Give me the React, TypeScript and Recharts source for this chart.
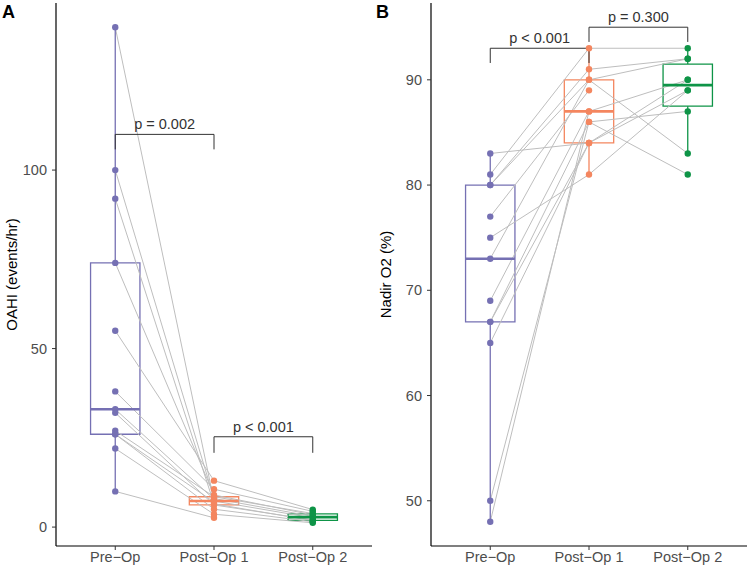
import { ComposedChart, Line, Scatter, XAxis, YAxis, ReferenceArea, ReferenceLine } from 'recharts';

const groups = ['Pre−Op', 'Post−Op 1', 'Post−Op 2'];
const groupColors = ['#7570B3', '#F4865F', '#0E9447'];

// one entry per patient, same order in every array (null = no follow-up)
const oahiPre = [140, 100, 92, 74, 55, 38, 33, 32, 27, 26, 26, 22, 10];
const oahiPost1 = [7.3, 8, 6.5, 9, 13, 10.6, 7.8, 6.2, 8.5, 7, 5, 3.6, 2.6];
const oahiPost2 = [2.6, 3.0, 1.8, 3.4, 4.9, 4.4, null, 2.0, 3.8, null, 1.5, 1.2, null];
const oahiTicks = [0, 50, 100];
const oahiBrackets = [
  { from: 1, to: 2, y: 110, tip: 105.8, text: 'p = 0.002' },
  { from: 2, to: 3, y: 25.3, tip: 20.8, text: 'p < 0.001' },
];

const nadirPre = [83, 81, 80, 80, 77, 75, 73, 69, 67, 67, 65, 50, 48];
const nadirPost1 = [84, 93, 90, 91, 89, 81, 90, 87, 86, 84, 84, 86, 87];
const nadirPost2 = [89, 93, 92, 92, null, 89, 83, 90, 87, null, 90, 81, null];
const nadirTicks = [50, 60, 70, 80, 90];
const nadirBrackets = [
  { from: 1, to: 2, y: 93, tip: 91.6, text: 'p < 0.001' },
  { from: 2, to: 3, y: 95, tip: 93.6, text: 'p = 0.300' },
];

type Bracket = { from: number; to: number; y: number; tip: number; text: string };

const quantile = (s: number[], p: number) => {
  const h = (s.length - 1) * p;
  const lo = Math.floor(h);
  const hi = Math.min(lo + 1, s.length - 1);
  return s[lo] + (h - lo) * (s[hi] - s[lo]);
};

const boxStats = (vals: (number | null)[]) => {
  const s = vals.filter((v): v is number => v != null).sort((a, b) => a - b);
  const q1 = quantile(s, 0.25);
  const med = quantile(s, 0.5);
  const q3 = quantile(s, 0.75);
  const iqr = q3 - q1;
  const lo = s.find((v) => v >= q1 - 1.5 * iqr) as number;
  const hi = [...s].reverse().find((v) => v <= q3 + 1.5 * iqr) as number;
  return { q1, med, q3, lo, hi };
};

const axisText = { fill: '#4D4D4D', fontSize: 14.5 };

interface PanelProps {
  series: (number | null)[][];
  domain: [number, number];
  ticks: number[];
  label: string;
  brackets: Bracket[];
  yAxisWidth: number;
  rightMargin: number;
}

const Panel = ({ series, domain, ticks, label, brackets, yAxisWidth, rightMargin }: PanelProps) => {
  const patients = series[0].map((_, i) => series.map((vals, g) => ({ x: g + 1, y: vals[i] })));

  return (
    <ComposedChart width={374} height={568} margin={{ top: 3, right: rightMargin, bottom: 0, left: 0 }}>
      <XAxis
        type="number"
        dataKey="x"
        domain={[0.4, 3.6]}
        ticks={[1, 2, 3]}
        tickFormatter={(v: number) => groups[v - 1]}
        allowDataOverflow
        height={22}
        tick={axisText}
        tickSize={4}
        tickMargin={2}
        axisLine={{ stroke: '#000', strokeWidth: 1.2 }}
        tickLine={{ stroke: '#333' }}
      />
      <YAxis
        type="number"
        dataKey="y"
        domain={domain}
        ticks={ticks}
        allowDataOverflow
        width={yAxisWidth}
        tick={axisText}
        tickSize={4}
        tickMargin={5}
        axisLine={{ stroke: '#000', strokeWidth: 1.2 }}
        tickLine={{ stroke: '#333' }}
        label={{
          value: label,
          angle: -90,
          position: 'insideLeft',
          offset: 12,
          fill: '#000',
          fontSize: 15,
          style: { textAnchor: 'middle' },
        }}
      />

      {patients.map((pts, i) => (
        <Line
          key={`p${i}`}
          data={pts}
          dataKey="y"
          stroke="#BEBEBE"
          strokeWidth={1}
          dot={false}
          activeDot={false}
          isAnimationActive={false}
        />
      ))}

      {series.map((vals, g) => {
        const b = boxStats(vals);
        const x = g + 1;
        const c = groupColors[g];
        return [
          <ReferenceLine key={`wl${g}`} segment={[{ x, y: b.lo }, { x, y: b.q1 }]} stroke={c} strokeWidth={1.3} />,
          <ReferenceLine key={`wh${g}`} segment={[{ x, y: b.q3 }, { x, y: b.hi }]} stroke={c} strokeWidth={1.3} />,
          <ReferenceArea key={`box${g}`} x1={x - 0.25} x2={x + 0.25} y1={b.q1} y2={b.q3} fill="none" fillOpacity={0} stroke={c} strokeWidth={1.3} />,
          <ReferenceLine key={`med${g}`} segment={[{ x: x - 0.25, y: b.med }, { x: x + 0.25, y: b.med }]} stroke={c} strokeWidth={2.6} />,
        ];
      })}

      {brackets.map((br, i) => [
        <ReferenceLine key={`bl${i}`} segment={[{ x: br.from, y: br.tip }, { x: br.from, y: br.y }]} stroke="#333" strokeWidth={1} />,
        <ReferenceLine key={`br${i}`} segment={[{ x: br.to, y: br.tip }, { x: br.to, y: br.y }]} stroke="#333" strokeWidth={1} />,
        <ReferenceLine
          key={`bh${i}`}
          segment={[{ x: br.from, y: br.y }, { x: br.to, y: br.y }]}
          stroke="#333"
          strokeWidth={1}
          label={{ value: br.text, position: 'top', offset: 5, fill: '#333', fontSize: 14.5 }}
        />,
      ])}

      {series.map((vals, g) => (
        <Scatter
          key={`s${g}`}
          data={vals.filter((v) => v != null).map((y) => ({ x: g + 1, y }))}
          dataKey="y"
          isAnimationActive={false}
          shape={(p: any) => <circle cx={p.cx} cy={p.cy} r={3.2} fill={groupColors[g]} />}
        />
      ))}
    </ComposedChart>
  );
};

const letterStyle = {
  position: 'absolute' as const,
  top: 2,
  fontSize: 18,
  fontWeight: 'bold' as const,
  lineHeight: '20px',
  color: '#000',
};

export default function App() {
  return (
    <div
      style={{
        position: 'absolute',
        left: 0,
        top: 0,
        width: 748,
        height: 568,
        background: '#fff',
        fontFamily: '"Liberation Sans", Arial, sans-serif',
      }}
    >
      <div style={{ position: 'absolute', left: 0, top: 0 }}>
        <Panel
          series={[oahiPre, oahiPost1, oahiPost2]}
          domain={[-5.3, 146.8]}
          ticks={oahiTicks}
          label="OAHI (events/hr)"
          brackets={oahiBrackets}
          yAxisWidth={56}
          rightMargin={2}
        />
      </div>
      <div style={{ position: 'absolute', left: 374, top: 0 }}>
        <Panel
          series={[nadirPre, nadirPost1, nadirPost2]}
          domain={[45.7, 97.3]}
          ticks={nadirTicks}
          label="Nadir O2 (%)"
          brackets={nadirBrackets}
          yAxisWidth={57}
          rightMargin={1}
        />
      </div>
      <div style={{ ...letterStyle, left: 2 }}>A</div>
      <div style={{ ...letterStyle, left: 376 }}>B</div>
    </div>
  );
}
